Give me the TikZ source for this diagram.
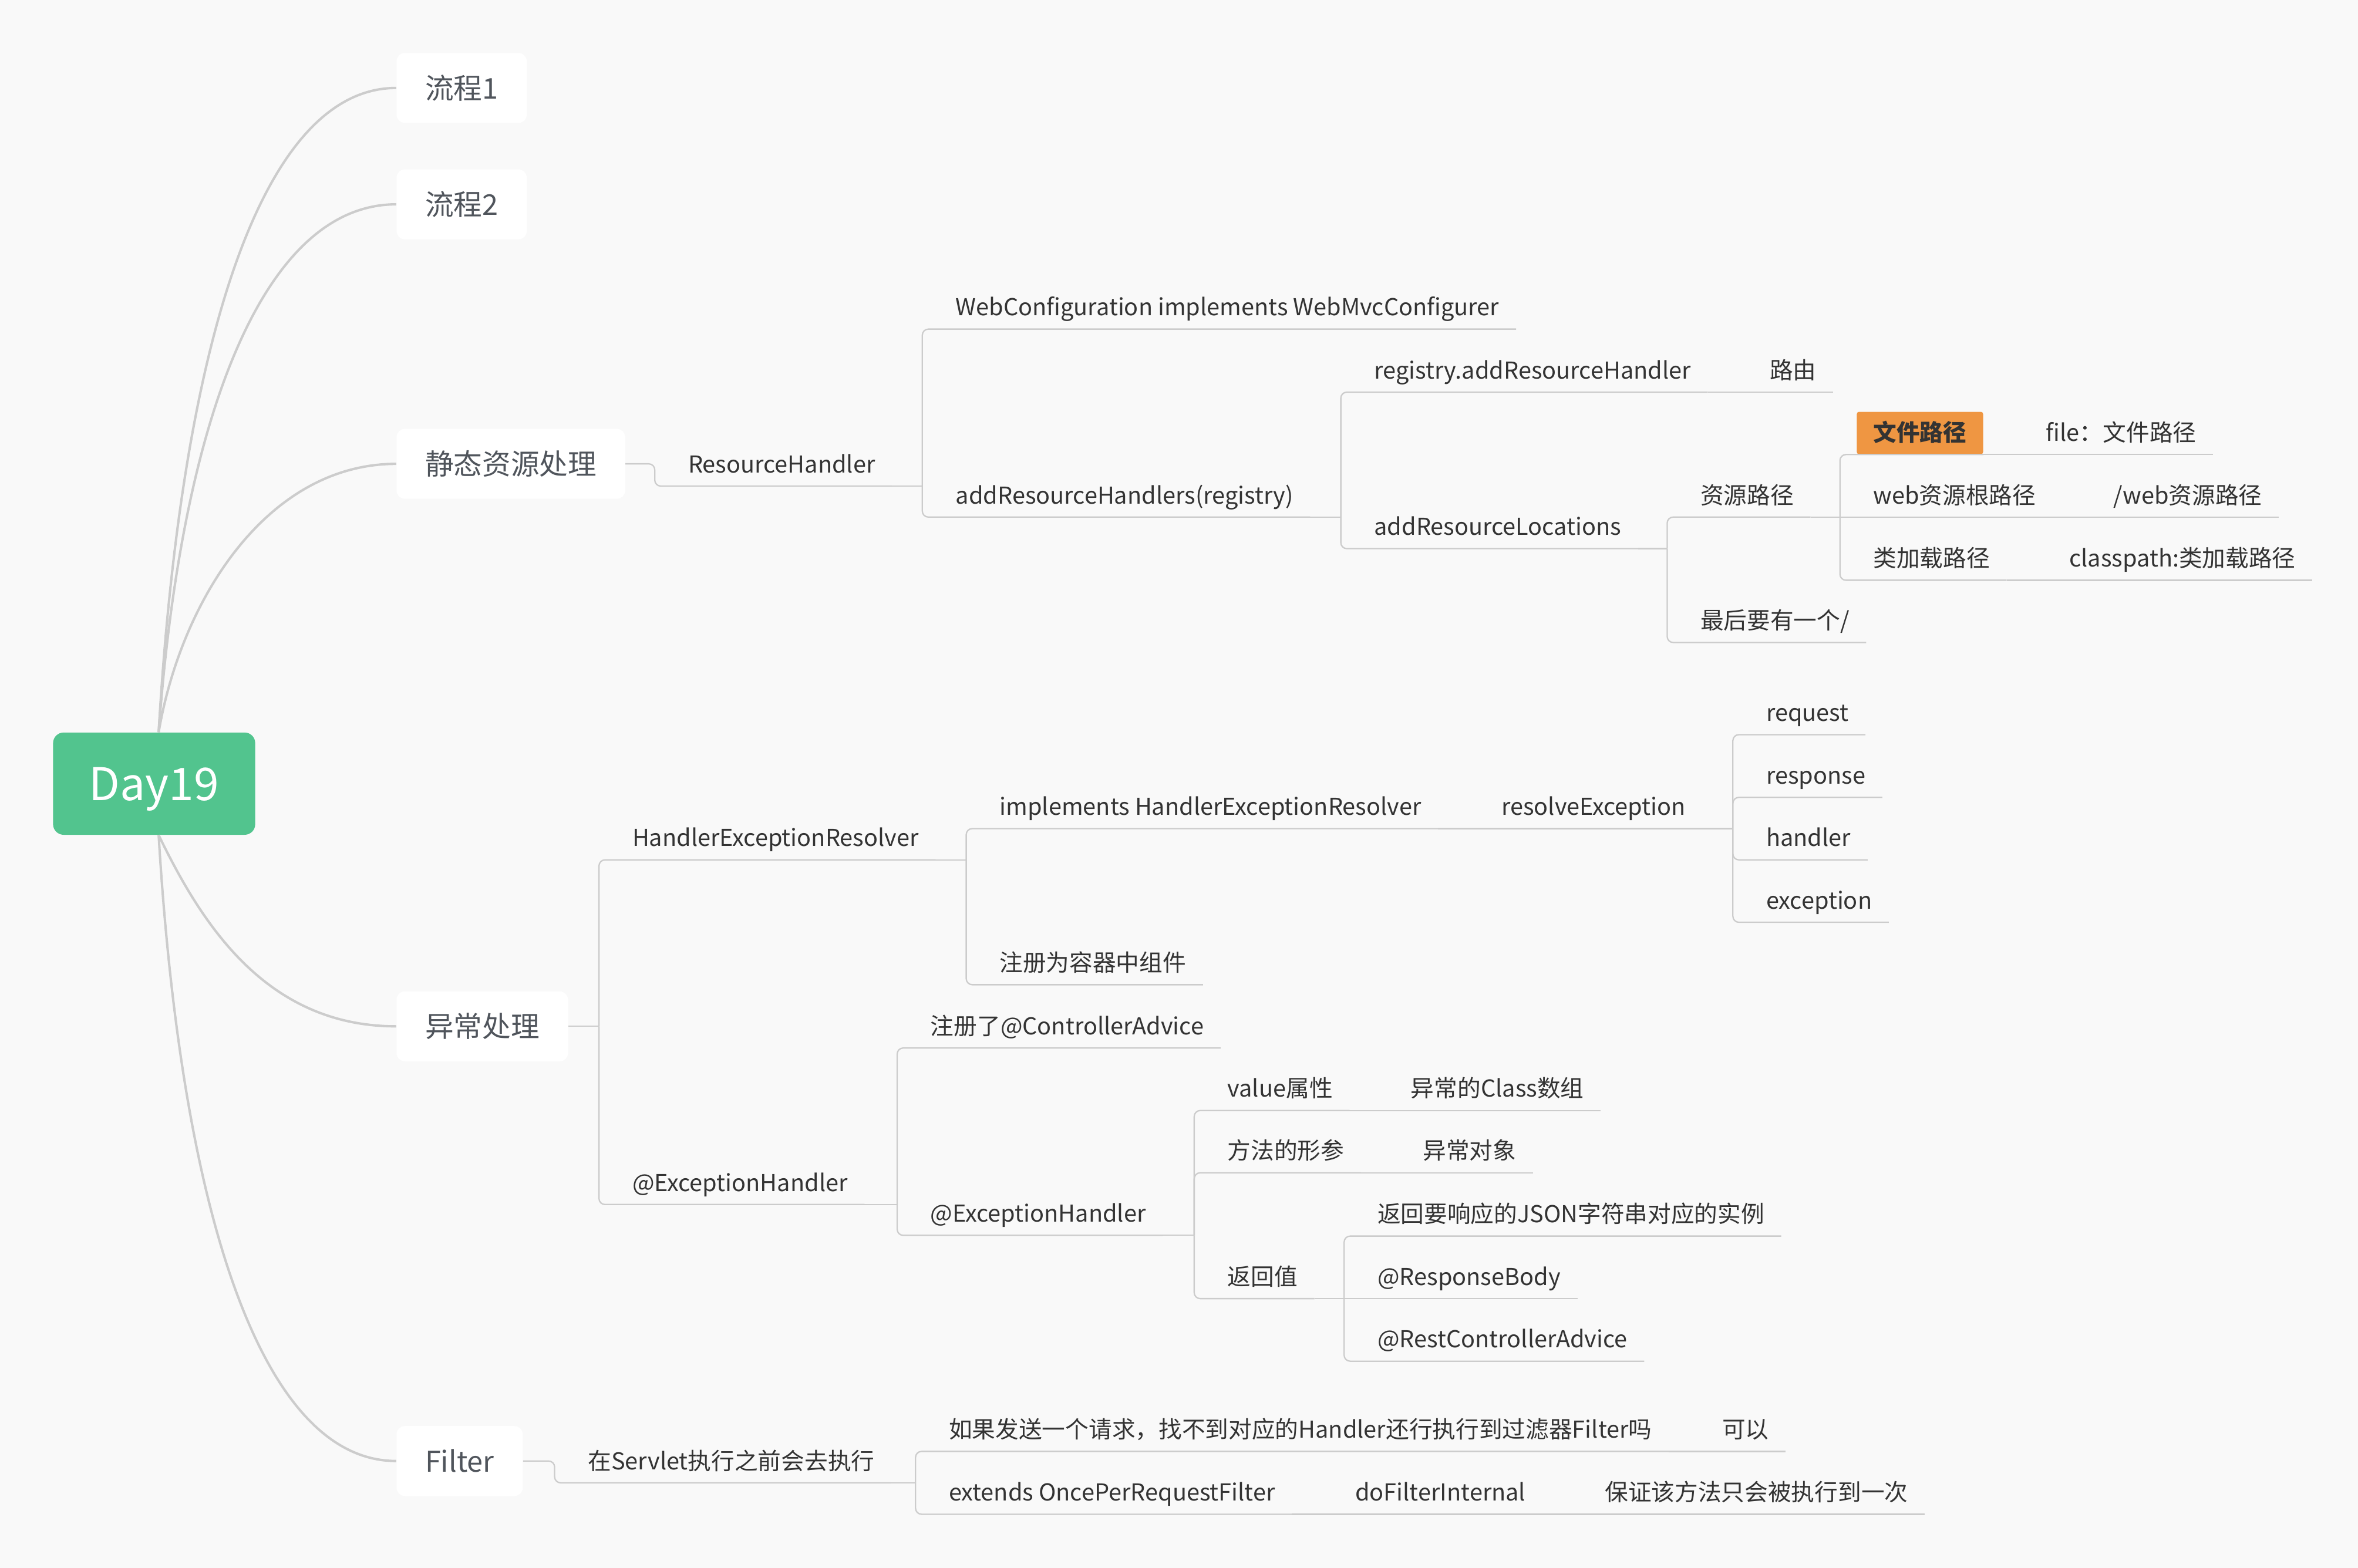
\documentclass[tikz,border=0pt]{standalone}
\usepackage{fontspec}
\setmainfont{Noto Sans CJK SC}
\definecolor{bg}{HTML}{F9F9F9}
\definecolor{rootgreen}{HTML}{52C48E}
\definecolor{topictext}{HTML}{50555C}
\definecolor{lbltext}{HTML}{333333}
\definecolor{linegray}{HTML}{CCCCCC}
\definecolor{hiorange}{HTML}{EF9642}
\begin{document}
\begin{tikzpicture}[x=1pt, y=-1pt,
  daybox/.style={fill=rootgreen, text=white, rounded corners=7pt, minimum width=134.4pt, minimum height=68pt, inner sep=0pt, text height=22pt, text depth=0pt, font=\fontsize{30}{36}\selectfont},
  topicbox/.style={fill=white, text=topictext, rounded corners=5.5pt, minimum height=46.5pt, inner xsep=19pt, inner ysep=0pt, anchor=west, font=\fontsize{19}{23}\selectfont},
  lbl/.style={anchor=south west, inner xsep=11pt, inner ysep=0pt, text height=19.5pt, text depth=8.7pt, text=lbltext, font=\fontsize{15.5}{19}\selectfont},
  hilite/.style={lbl, fill=hiorange, rounded corners=1.5pt, font=\fontsize{15.5}{19}\selectfont\bfseries},
  branch/.style={draw=linegray, line width=1.6pt},
  link/.style={draw=linegray, line width=0.9pt, rounded corners=4pt}]
\fill[bg] (0, 0) rectangle (1568, 1042.85);

% root and main topics
\node[daybox] (day) at (102.5, 521.2) {Day19};
\node[topicbox] (lc1) at (263.5, 58.5) {流程1};
\node[topicbox] (lc2) at (263.5, 135.9) {流程2};
\node[topicbox] (lc3) at (263.5, 308.5) {静态资源处理};
\node[topicbox] (lc4) at (263.5, 682.6) {异常处理};
\node[topicbox] (lc5) at (263.5, 971.7) {Filter};

\draw[branch] ([xshift=3pt]day.north) .. controls +(15, -257) and +(-90, 0) .. (lc1.west);
\draw[branch] ([xshift=3pt]day.north) .. controls +(15, -205) and +(-90, 0) .. (lc2.west);
\draw[branch] ([xshift=3pt]day.north) .. controls +(15, -88) and +(-86, 0) .. (lc3.west);
\draw[branch] ([xshift=3pt]day.south) .. controls +(29, 60) and +(-86, 0) .. (lc4.west);
\draw[branch] ([xshift=3pt]day.south) .. controls +(15, 250) and +(-90, 0) .. (lc5.west);

% static resources
\node[lbl] (rh) at (446.4, 323.3) {ResourceHandler};
\node[lbl] (wc) at (624.3, 218.9) {WebConfiguration implements WebMvcConfigurer};
\node[lbl] (arh) at (624.3, 343.9) {addResourceHandlers(registry)};
\node[lbl] (reg) at (902.6, 260.8) {registry.addResourceHandler};
\node[lbl] (route) at (1165.6, 260.8) {路由};
\node[lbl] (arl) at (902.6, 364.9) {addResourceLocations};
\node[lbl] (zylj) at (1119.5, 343.9) {资源路径};
\node[lbl] (last) at (1119.5, 427.3) {最后要有一个/};
\node[hilite] (wjlj) at (1234.5, 302.3) {文件路径};
\node[lbl] (filep) at (1349.4, 302.3) {file：文件路径};
\node[lbl] (webgen) at (1234.5, 343.9) {web资源根路径};
\node[lbl] (webp) at (1394.3, 343.9) {/web资源路径};
\node[lbl] (ljz) at (1234.5, 385.9) {类加载路径};
\node[lbl] (cpath) at (1364.8, 385.9) {classpath:类加载路径};

\coordinate (j-s) at (435.4, 308.5);
\coordinate (j-rh) at (613.3, 323.3);
\coordinate (j-arh) at (891.6, 343.9);
\coordinate (j-arl) at (1108.6, 364.9);
\coordinate (j-zylj) at (1223.5, 343.9);
\draw[link] (lc3.east) -- (j-s) |- (rh.south east);
\draw[link] (rh.south east) -- (j-rh);
\draw[link] (j-rh) |- (wc.south east);
\draw[link] (j-rh) |- (arh.south east);
\draw[link] (arh.south east) -- (j-arh);
\draw[link] (j-arh) |- (reg.south east);
\draw[link] (j-arh) |- (arl.south east);
\draw[link] (reg.south east) -- (route.south east);
\draw[link] (arl.south east) -- (j-arl);
\draw[link] (j-arl) |- (zylj.south east);
\draw[link] (j-arl) |- (last.south east);
\draw[link] (zylj.south east) -- (webgen.south east);
\draw[link] (j-zylj) |- (wjlj.south east);
\draw[link] (j-zylj) |- (ljz.south east);
\draw[link] (wjlj.south east) -- (filep.south east);
\draw[link] (webgen.south east) -- (webp.south east);
\draw[link] (ljz.south east) -- (cpath.south east);

% exceptions
\node[lbl] (her) at (409.3, 571.9) {HandlerExceptionResolver};
\node[lbl] (impl) at (653.5, 551.1) {implements HandlerExceptionResolver};
\node[lbl] (resolve) at (987.2, 551.1) {resolveException};
\node[lbl] (req) at (1163.3, 488.6) {request};
\node[lbl] (resp) at (1163.3, 530.3) {response};
\node[lbl] (hdl) at (1163.3, 571.9) {handler};
\node[lbl] (exc) at (1163.3, 613.4) {exception};
\node[lbl] (zc) at (653.5, 654.9) {注册为容器中组件};
\node[lbl] (eh1) at (409.3, 801.1) {@ExceptionHandler};
\node[lbl] (ca) at (607.6, 697) {注册了@ControllerAdvice};
\node[lbl] (eh2) at (607.6, 821.6) {@ExceptionHandler};
\node[lbl] (val) at (805.1, 738.6) {value属性};
\node[lbl] (cls) at (927, 738.6) {异常的Class数组};
\node[lbl] (xc) at (805.1, 780) {方法的形参};
\node[lbl] (obj) at (935, 780) {异常对象};
\node[lbl] (fhz) at (805.1, 863.7) {返回值};
\node[lbl] (json) at (904.8, 822.1) {返回要响应的JSON字符串对应的实例};
\node[lbl] (rb) at (904.8, 863.7) {@ResponseBody};
\node[lbl] (rca) at (904.8, 905.3) {@RestControllerAdvice};

\coordinate (j-e) at (398.3, 682.6);
\coordinate (j-her) at (642.5, 571.9);
\coordinate (j-res) at (1152.3, 551.1);
\coordinate (j-eh1) at (596.6, 801.1);
\coordinate (j-eh2) at (794.1, 821.6);
\coordinate (j-fhz) at (893.8, 863.7);
\draw[link] (lc4.east) -- (j-e);
\draw[link] (j-e) |- (her.south east);
\draw[link] (j-e) |- (eh1.south east);
\draw[link] (her.south east) -- (j-her);
\draw[link] (j-her) |- (impl.south east);
\draw[link] (j-her) |- (zc.south east);
\draw[link] (impl.south east) -- (resolve.south east);
\draw[link] (resolve.south east) -- (j-res);
\draw[link] (j-res) |- (req.south east);
\draw[link] (j-res) |- (resp.south east);
\draw[link] (j-res) |- (hdl.south east);
\draw[link] (j-res) |- (exc.south east);
\draw[link] (eh1.south east) -- (j-eh1);
\draw[link] (j-eh1) |- (ca.south east);
\draw[link] (j-eh1) |- (eh2.south east);
\draw[link] (eh2.south east) -- (j-eh2);
\draw[link] (j-eh2) |- (val.south east);
\draw[link] (j-eh2) |- (xc.south east);
\draw[link] (j-eh2) |- (fhz.south east);
\draw[link] (val.south east) -- (cls.south east);
\draw[link] (xc.south east) -- (obj.south east);
\draw[link] (fhz.south east) -- (rb.south east);
\draw[link] (j-fhz) |- (json.south east);
\draw[link] (j-fhz) |- (rca.south east);

% filter
\node[lbl] (sv) at (379.8, 986.2) {在Servlet执行之前会去执行};
\node[lbl] (ask) at (619.8, 965.3) {如果发送一个请求，找不到对应的Handler还行执行到过滤器Filter吗};
\node[lbl] (yes) at (1134, 965.3) {可以};
\node[lbl] (ext) at (619.8, 1007.1) {extends OncePerRequestFilter};
\node[lbl] (dfi) at (890, 1007.1) {doFilterInternal};
\node[lbl] (once) at (1056, 1007.1) {保证该方法只会被执行到一次};

\coordinate (j-f) at (368.8, 971.7);
\coordinate (j-sv) at (608.8, 986.2);
\draw[link] (lc5.east) -- (j-f) |- (sv.south east);
\draw[link] (sv.south east) -- (j-sv);
\draw[link] (j-sv) |- (ask.south east);
\draw[link] (j-sv) |- (ext.south east);
\draw[link] (ask.south east) -- (yes.south east);
\draw[link] (ext.south east) -- (dfi.south east);
\draw[link] (dfi.south east) -- (once.south east);
\end{tikzpicture}
\end{document}
